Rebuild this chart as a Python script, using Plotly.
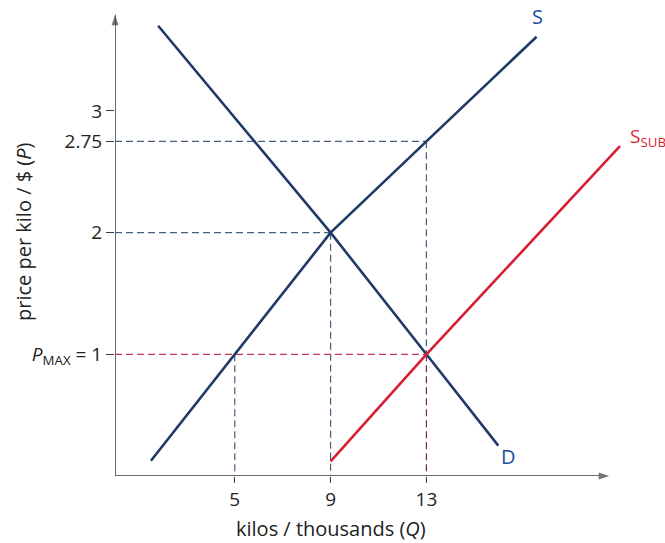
import plotly.graph_objects as go

# ---- data ----
q_ticks = [5, 9, 13]
p_ticks = [1, 2, 2.75, 3]
p_ticktext = ["<i>P</i><sub>MAX</sub> = 1", "2", "2.75", "3"]

# supply S
s_q = [1.5, 5, 9, 13, 17.6]
s_p = [0.125, 1, 2, 2.75, 3.61]
# demand D
d_q = [1.8, 9, 13, 16]
d_p = [3.7, 2, 1, 0.25]
# subsidised supply S_SUB
ssub_q = [9, 13, 21.08]
ssub_p = [0.12, 1, 2.71]

# key points for guides
eq_q, eq_p = 9, 2          # equilibrium
pmax = 1                   # price ceiling
qs_pmax, qd_pmax = 5, 13   # quantity supplied / demanded at P_MAX
p_prod = 2.75              # supply price at Q = 13

# axis extents (arrow tips)
q_arrow, p_arrow = 20.63, 3.79

NAVY = "#1f3a66"
LABEL_BLUE = "#1c4f9c"
RED = "#d71f33"
GUIDE_BLUE = "#45607f"
GUIDE_RED = "#c23a55"
GUIDE_MAROON = "#7e2444"
AXIS = "#3a3a3a"
FONT = "Open Sans"

fig = go.Figure()

dash = "7px,4px"

def guide(xs, ys, color):
    fig.add_trace(go.Scatter(x=xs, y=ys, mode="lines",
                             line=dict(color=color, width=1.2, dash=dash),
                             hoverinfo="skip", showlegend=False))

# axes with arrow heads
fig.add_trace(go.Scatter(x=[0, q_arrow], y=[0, 0], mode="lines+markers",
                         line=dict(color=AXIS, width=1.5),
                         marker=dict(symbol="arrow", size=[0, 11], angleref="previous",
                                     color=AXIS, line=dict(width=0)),
                         hoverinfo="skip", showlegend=False, cliponaxis=False))
fig.add_trace(go.Scatter(x=[0, 0], y=[0, p_arrow], mode="lines+markers",
                         line=dict(color=AXIS, width=1.5),
                         marker=dict(symbol="arrow", size=[0, 11], angleref="previous",
                                     color=AXIS, line=dict(width=0)),
                         hoverinfo="skip", showlegend=False, cliponaxis=False))

# dashed guides
guide([0, qd_pmax], [p_prod, p_prod], GUIDE_BLUE)
guide([qd_pmax, qd_pmax], [p_prod, pmax], GUIDE_BLUE)
guide([qd_pmax, qd_pmax], [pmax, 0], GUIDE_MAROON)
guide([0, eq_q], [eq_p, eq_p], GUIDE_BLUE)
guide([eq_q, eq_q], [eq_p, 0], GUIDE_BLUE)
guide([qs_pmax, qs_pmax], [pmax, 0], GUIDE_BLUE)
guide([0, qd_pmax], [pmax, pmax], GUIDE_RED)

# curves
fig.add_trace(go.Scatter(x=s_q, y=s_p, mode="lines", line=dict(color=NAVY, width=2.6),
                         showlegend=False, hoverinfo="skip"))
fig.add_trace(go.Scatter(x=d_q, y=d_p, mode="lines", line=dict(color=NAVY, width=2.6),
                         showlegend=False, hoverinfo="skip"))
fig.add_trace(go.Scatter(x=ssub_q, y=ssub_p, mode="lines", line=dict(color=RED, width=2.6),
                         showlegend=False, hoverinfo="skip"))

annotations = [
    # curve labels
    dict(x=s_q[-1], y=s_p[-1], text="S", showarrow=False, xref="x", yref="y",
         xanchor="center", yanchor="middle", xshift=1, yshift=20,
         font=dict(family=FONT, size=20, color=LABEL_BLUE)),
    dict(x=d_q[-1], y=d_p[-1], text="D", showarrow=False, xref="x", yref="y",
         xanchor="center", yanchor="middle", xshift=10, yshift=-11,
         font=dict(family=FONT, size=20, color=LABEL_BLUE)),
    dict(x=ssub_q[-1], y=ssub_p[-1], text="S<sub>SUB</sub>", showarrow=False,
         xref="x", yref="y", xanchor="left", yanchor="middle", xshift=8, yshift=9,
         font=dict(family=FONT, size=19, color=RED)),
    # axis titles
    dict(x=331, y=528, xref="paper", yref="paper", text="kilos / thousands (<i>Q</i>)",
         showarrow=False, font=dict(family=FONT, size=20, color="#222")),
    dict(x=24, y=232, xref="paper", yref="paper", text="price per kilo / $ (<i>P</i>)",
         textangle=-90, showarrow=False, font=dict(family=FONT, size=20, color="#222")),
]

W, H = 665, 543
ML, MR, MT, MB = 115, 23, 8, 67
# convert pixel positions of titles into paper coords
for a in annotations:
    if a.get("xref") == "paper":
        px, py = a["x"], a["y"]
        a["x"] = (px - ML) / (W - ML - MR)
        a["y"] = ((H - MB) - py) / (H - MT - MB)
        a["xanchor"] = "center"
        a["yanchor"] = "middle"

fig.update_layout(
    width=W, height=H, autosize=False,
    margin=dict(l=ML, r=MR, t=MT, b=MB),
    paper_bgcolor="white", plot_bgcolor="white",
    font=dict(family=FONT, size=19, color="#222"),
    annotations=annotations,
    xaxis=dict(range=[0, 22], tickvals=q_ticks, ticks="outside", ticklen=6,
               tickcolor=AXIS, tickwidth=1, showgrid=False, zeroline=False,
               showline=False, tickfont=dict(family=FONT, size=19, color="#222")),
    yaxis=dict(range=[0, 3.846], tickvals=p_ticks, ticktext=p_ticktext,
               ticks="outside", ticklen=8, tickcolor=AXIS, tickwidth=1,
               showgrid=False, zeroline=False, showline=False,
               tickfont=dict(family=FONT, size=19, color="#222")),
)

fig.write_html("out.html", config={"displayModeBar": False},
               post_script="document.body.style.margin='0';document.body.style.overflow='hidden';")
